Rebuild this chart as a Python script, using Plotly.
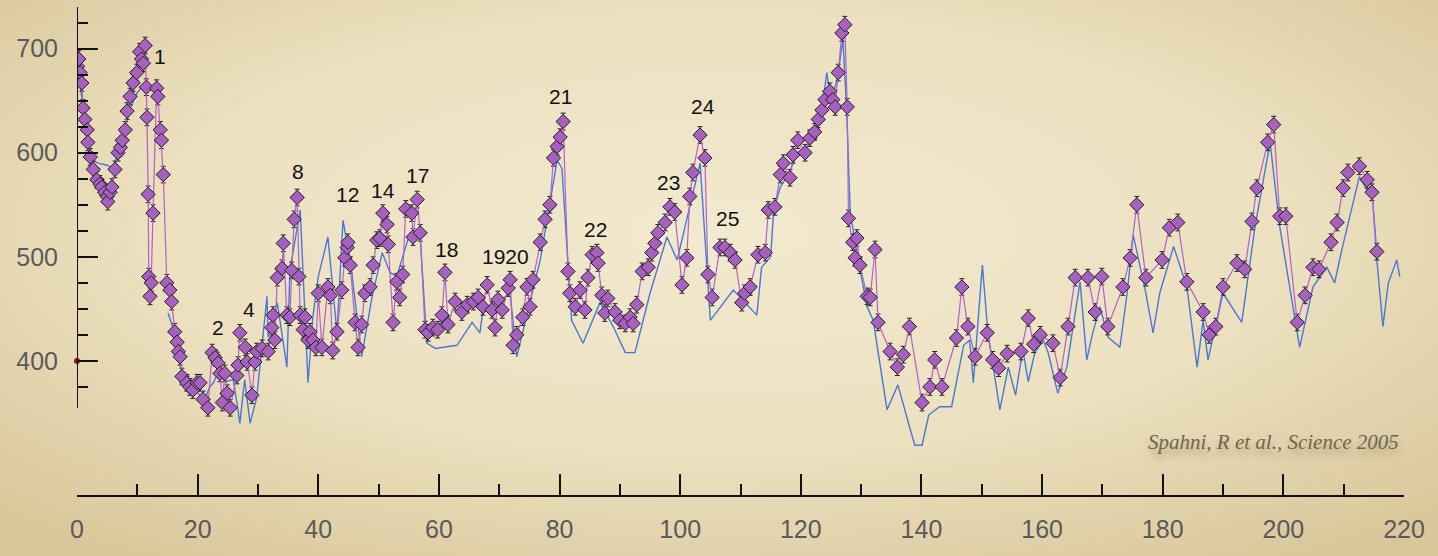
import base64
import plotly.graph_objects as go

# ---------------- data ----------------
ch4_age = [0.1, 0.3, 0.5, 0.8, 1.0, 1.3, 1.7, 1.8, 2.2, 2.7, 3.3, 3.8, 4.1, 4.6, 5.0, 5.1, 5.5, 5.8,
           6.3, 6.8, 7.2, 7.5, 8.0, 8.3, 8.8, 9.3, 9.9, 10.4, 10.7, 11.0, 11.3, 11.5, 11.6, 11.8,
           11.9, 12.1, 12.3, 12.6, 13.2, 13.4, 13.8, 14.0, 14.3, 14.9, 15.4, 15.7, 16.2, 16.6,
           16.8, 17.1, 17.4, 18.2, 18.7, 19.2, 19.9, 20.4, 20.9, 21.7, 22.4, 22.9, 23.4, 23.7,
           24.1, 24.5, 24.9, 25.4, 26.5, 26.7, 27.0, 27.9, 28.2, 29.0, 29.5, 29.8, 30.7, 31.7,
           32.3, 32.5, 32.8, 33.2, 34.0, 34.2, 34.8, 35.3, 35.6, 36.0, 36.5, 36.8, 37.0, 37.5,
           37.8, 38.3, 38.6, 39.1, 39.6, 40.0, 40.6, 41.6, 42.0, 42.4, 43.1, 43.9, 44.4, 44.8,
           44.9, 45.3, 46.1, 46.6, 47.2, 47.7, 48.6, 49.1, 49.7, 50.2, 50.7, 51.4, 51.6, 52.4,
           53.0, 53.5, 54.0, 54.5, 55.5, 55.7, 56.4, 56.9, 57.7, 58.2, 59.0, 59.8, 60.5, 61.0,
           61.5, 62.7, 63.8, 64.7, 65.7, 66.5, 67.3, 68.0, 68.8, 69.3, 69.8, 70.5, 71.5, 71.8,
           72.3, 72.9, 73.9, 74.6, 75.1, 75.6, 76.8, 77.6, 78.4, 79.0, 79.6, 80.1, 80.6, 81.4,
           81.7, 82.6, 83.4, 84.2, 84.7, 85.4, 86.2, 86.4, 87.0, 87.5, 88.0, 89.2, 90.0, 90.9,
           91.7, 92.2, 92.8, 93.7, 94.7, 95.3, 95.8, 96.3, 97.5, 98.3, 99.1, 100.3, 101.1, 101.6,
           102.1, 103.3, 104.1, 104.6, 105.3, 106.6, 107.4, 108.3, 109.1, 110.2, 110.7, 111.6,
           112.9, 114.1, 114.6, 115.7, 116.6, 117.1, 118.2, 118.7, 119.5, 120.7, 121.5, 122.3,
           122.9, 123.5, 124.0, 124.8, 125.3, 125.7, 126.2, 126.8, 127.3, 127.7, 127.9, 128.6,
           129.0, 129.3, 129.8, 131.0, 131.5, 132.3, 132.8, 134.8, 136.0, 137.0, 138.0, 140.1,
           141.4, 142.2, 143.4, 145.8, 146.7, 147.7, 148.9, 150.9, 151.8, 152.8, 154.2, 156.5,
           157.7, 158.6, 159.7, 161.8, 163.0, 164.3, 165.5, 167.6, 168.8, 169.9, 170.9, 173.4,
           174.6, 175.7, 177.2, 179.9, 181.1, 182.5, 184.0, 186.7, 187.7, 188.8, 190.0, 192.3,
           193.6, 194.8, 195.6, 197.4, 198.4, 199.4, 200.4, 202.3, 203.6, 204.9, 205.9, 207.9,
           208.9, 209.9, 210.7, 212.6, 213.9, 214.7, 215.5]
ch4_ppb = [683, 690, 677, 667, 643, 632, 622, 610, 596, 584, 574, 570, 567, 562, 558, 553, 562, 567,
           584, 600, 605, 612, 622, 640, 654, 667, 677, 697, 690, 686, 703, 663, 634, 560,
           481, 462, 475, 542, 662, 654, 622, 612, 579, 475, 468, 457, 428, 418,
           409, 404, 385, 379, 375, 372, 379, 379, 363, 355, 408, 403, 398, 388,
           360, 388, 369, 355, 386, 396, 427, 413, 399, 367, 399, 409, 412, 409,
           432, 444, 420, 480, 489, 513, 444, 442, 487, 536, 557, 481, 444, 430,
           442, 420, 428, 420, 413, 465, 413, 471, 463, 410, 428, 468, 499, 509,
           514, 492, 437, 413, 435, 465, 471, 492, 516, 518, 542, 531, 512, 437,
           476, 461, 483, 546, 542, 519, 555, 523, 430, 427, 432, 430, 444, 485,
           435, 457, 447, 454, 457, 461, 452, 473, 449, 432, 459, 449, 470, 478,
           415, 425, 442, 471, 452, 478, 514, 536, 550, 595, 606, 615, 630, 486,
           465, 452, 468, 449, 480, 502, 504, 494, 463, 446, 460, 447, 439, 436,
           442, 436, 454, 486, 490, 504, 513, 523, 533, 548, 543, 473, 499, 558,
           581, 617, 595, 483, 461, 509, 509, 504, 497, 456, 465, 471,
           502, 504, 545, 548, 579, 590, 576, 598, 612, 600, 614, 620,
           632, 641, 651, 659, 651, 644, 677, 715, 723, 644, 537, 514,
           499, 518, 492, 462, 461, 507, 437, 409, 394, 406, 433, 360,
           375, 401, 375, 422, 471, 433, 404, 427, 401, 393, 407, 409,
           441, 416, 425, 417, 384, 433, 480, 480, 447, 481, 433, 471,
           499, 550, 480, 497, 528, 533, 476, 447, 425, 433, 471, 494,
           488, 534, 566, 610, 627, 539, 539, 437, 463, 490, 488, 514,
           533, 566, 581, 587, 574, 562, 505]

blue_age = [0.0, 1.0, 2.0, 2.5, 3.5, 5.0, 6.0, 7.0, 8.0, 9.0, 10.0, 10.6, None,
            15.1, 16.0, 17.0, 18.0, 19.0, 20.0, 21.0, 22.0, 22.6, 23.5, 24.5, 25.9, 26.5,
            27.0, 27.8, 28.7, 29.8, 30.8, 31.5, 31.7, 33.2, 34.8, 35.3, 37.0, 38.1, 38.3,
            39.1, 40.0, 41.6, 43.1, 44.1, 45.3, 47.2, 48.9, 50.6, 51.9, 53.0, 55.2, 56.9,
            58.0, 59.4, 63.0, 65.5, 66.8, 67.3, 69.6, 71.8, 72.9, 76.8, 79.6, 80.4, 82.0,
            83.9, 86.7, 88.9, 90.9, 92.5, 95.0, 97.8, 99.5, 103.3, 105.0, 108.8, 112.7,
            113.5, 115.0, 115.5, 116.6, 118.0, 119.5, 121.0, 122.5, 123.5, 124.3, 125.0,
            126.0, 127.0, 127.6, 128.2, 129.8, 131.0, 132.0, 134.3, 136.1, 138.0, 138.9,
            140.1, 141.2, 143.0, 145.0, 147.0, 148.0, 148.6, 150.1, 151.0, 153.0, 154.4,
            155.6, 156.8, 157.7, 158.8, 160.2, 161.0, 162.6, 164.1, 166.3, 167.4, 168.4,
            169.6, 170.9, 172.9, 174.1, 175.1, 177.1, 178.4, 179.5, 181.8, 184.0, 185.7,
            186.7, 187.5, 190.0, 193.1, 195.3, 197.8, 199.4, 202.7, 204.9, 207.2, 208.5,
            209.7, 212.6, 214.8, 215.5, 216.5, 217.4, 218.8, 219.3]
blue_ppb = [685, 645, 605, 593, 590, 588, 585, 605, 625, 645, 658, 662, None,
            446, 430, 398, 375, 368, 370, 360, 375, 379, 390, 380, 382, 360,
            340, 382, 340, 365, 423, 462, 423, 456, 394, 487, 545, 404, 379,
            442, 481, 519, 427, 535, 497, 404, 461, 504, 485, 481, 523, 519,
            417, 412, 415, 437, 427, 449, 456, 465, 404, 497, 593, 585, 439,
            417, 456, 433, 408, 408, 465, 519, 497, 590, 439, 468, 444,
            490, 500, 545, 567, 580, 600, 605, 620, 640, 677, 650,
            670, 709, 640, 542, 488, 452, 439, 353, 377, 337, 319,
            319, 348, 356, 356, 415, 420, 379, 492, 428, 353, 394,
            367, 411, 380, 408, 420, 408, 369, 394, 476, 401, 427,
            452, 423, 413, 465, 521, 468, 427, 465, 510, 471, 394,
            439, 401, 465, 437, 529, 610, 529, 413, 471, 490, 475,
            507, 577, 555, 497, 433, 475, 497, 481]

modern_age = [0.0]
modern_ppb = [400]

event_labels = ["1", "2", "4", "8", "12", "14", "17", "18", "1920", "21", "22", "23", "24", "25"]
event_age = [13.8, 23.4, 28.5, 36.6, 44.9, 50.7, 56.5, 61.3, 71.0, 80.2, 86.0, 98.0, 103.8, 107.9]
event_ppb = [692, 432, 449, 582, 560, 564, 578, 507, 500, 654, 526, 571, 644, 537]

x_ticks = [0, 20, 40, 60, 80, 100, 120, 140, 160, 180, 200, 220]
y_ticks = [400, 500, 600, 700]
y_minor_ticks = [375, 425, 450, 475, 525, 550, 575, 625, 650, 675, 725]
y_axis_span = [355, 740]

# ---------------- background (radial vignette) ----------------
W, H = 1438, 556
svg = (
    f'<svg xmlns="http://www.w3.org/2000/svg" width="{W}" height="{H}" preserveAspectRatio="none">'
    '<defs><radialGradient id="g" cx="50%" cy="42%" r="72%">'
    '<stop offset="0%" stop-color="#f2e9cf"/>'
    '<stop offset="55%" stop-color="#ece0bf"/>'
    '<stop offset="100%" stop-color="#d9c69a"/>'
    '</radialGradient></defs>'
    f'<rect width="{W}" height="{H}" fill="url(#g)"/></svg>'
)
bg_src = "data:image/svg+xml;base64," + base64.b64encode(svg.encode()).decode()

ML, MR, MT, MB = 77, 34, 7, 60
PW, PH = W - ML - MR, H - MT - MB

fig = go.Figure()

fig.add_trace(go.Scatter(
    x=blue_age, y=blue_ppb, mode="lines",
    line=dict(color="#4a78d4", width=1.4),
    connectgaps=False, hoverinfo="skip", showlegend=False,
))

fig.add_trace(go.Scatter(
    x=ch4_age, y=ch4_ppb, mode="lines+markers",
    line=dict(color="#b063c9", width=1.2),
    marker=dict(symbol="diamond", size=11, color="#a660bd",
                line=dict(color="#2a1a2a", width=1)),
    error_y=dict(type="constant", value=8, color="#222222", thickness=1, width=2.5),
    hoverinfo="skip", showlegend=False,
))

fig.add_trace(go.Scatter(
    x=modern_age, y=modern_ppb, mode="markers",
    marker=dict(symbol="circle", size=6, color="#8b1a1a"),
    cliponaxis=False, hoverinfo="skip", showlegend=False,
))

for t, a, p in zip(event_labels, event_age, event_ppb):
    fig.add_annotation(x=a, y=p, text=t, showarrow=False, xanchor="center", yanchor="middle",
                       font=dict(family="Liberation Sans, Arial, sans-serif", size=21, color="#111111"))

fig.add_annotation(
    xref="paper", yref="paper", x=0.998, y=54 / PH, yanchor="middle", xanchor="right",
    text="<i>Spahni, R et al., Science 2005</i>", showarrow=False,
    font=dict(family="Liberation Serif, DejaVu Serif, serif", size=21, color="#6e6650",
              shadow="0px 6px 7px rgba(90,70,30,0.35)"),
)

# y-axis line only over the labelled span (data below it is still drawn)
fig.add_shape(type="line", xref="x", yref="y", x0=0, x1=0,
              y0=y_axis_span[0], y1=y_axis_span[1],
              line=dict(color="#111", width=2), layer="above")

# y range extends below the axis line so the deep blue minima stay visible
Y_LO, Y_HI = 300, 740
ypx_per = 1.04
ydom0 = (H - MB - (49 + (700 - Y_LO) * ypx_per)) / PH

fig.update_layout(
    width=W, height=H,
    margin=dict(l=ML, r=MR, t=MT, b=MB),
    paper_bgcolor="#ebdfbd", plot_bgcolor="rgba(0,0,0,0)",
    images=[dict(source=bg_src, xref="paper", yref="paper",
                 x=-ML / PW, y=1 + MT / PH, sizex=W / PW, sizey=H / PH,
                 sizing="stretch", layer="below", xanchor="left", yanchor="top")],
    xaxis=dict(range=[0, 220], anchor="free", position=0,
               tickvals=x_ticks, ticks="inside", ticklen=21, tickwidth=1.5, tickcolor="#111",
               minor=dict(dtick=10, tick0=0, ticks="inside", ticklen=11, tickwidth=1.5, tickcolor="#111"),
               showline=True, linecolor="#111", linewidth=2,
               showgrid=False, zeroline=False,
               tickfont=dict(family="Liberation Sans, Arial, sans-serif", size=25, color="#5a5a5a"),
               ticklabelstandoff=11),
    yaxis=dict(range=[Y_LO, Y_HI], domain=[ydom0, 1],
               tickvals=y_ticks, ticks="inside", ticklen=21, tickwidth=2, tickcolor="#111",
               minor=dict(tickmode="array", tickvals=y_minor_ticks, ticks="inside", ticklen=11,
                          tickwidth=1.5, tickcolor="#111"),
               showline=False,
               showgrid=False, zeroline=False,
               tickfont=dict(family="Liberation Sans, Arial, sans-serif", size=25, color="#5a5a5a"),
               ticklabelstandoff=18),
    hovermode=False,
)

fig.write_html("out.html", config={"displayModeBar": False},
               post_script="document.body.style.margin='0';document.body.style.overflow='hidden';")
